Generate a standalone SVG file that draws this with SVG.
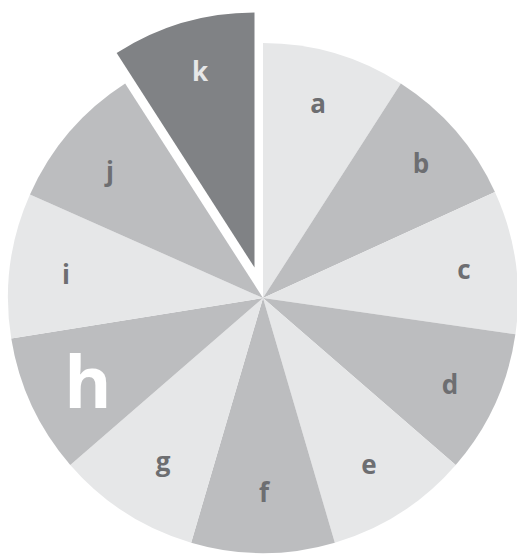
<svg xmlns="http://www.w3.org/2000/svg" width="517" height="556" viewBox="0 0 517 556">
<style>
.l{fill:#e6e7e8}.m{fill:#bcbdbf}.d{fill:#808285}
text{font-family:"Open Sans","Liberation Sans",sans-serif;font-weight:bold;font-size:26px;fill:#6d6e71;text-anchor:middle}
</style>
<rect width="517" height="556" fill="#ffffff"/>
<g id="a"><path class="l" d="M263,298 L263,43 A255,255 0 0 1 400.85,83.47 Z"/><text x="318" y="113">a</text></g>
<g id="b"><path class="m" d="M263,298 L400.85,83.47 A255,255 0 0 1 494.96,192.07 Z"/><text x="421" y="173">b</text></g>
<g id="c"><path class="l" d="M263,298 L494.96,192.07 A255,255 0 0 1 515.40,334.29 Z"/><text x="464" y="279">c</text></g>
<g id="d"><path class="m" d="M263,298 L515.40,334.29 A255,255 0 0 1 455.72,464.99 Z"/><text x="450" y="394">d</text></g>
<g id="e"><path class="l" d="M263,298 L455.72,464.99 A255,255 0 0 1 334.84,542.67 Z"/><text x="369" y="474">e</text></g>
<g id="f"><path class="m" d="M263,298 L334.84,542.67 A255,255 0 0 1 191.16,542.67 Z"/><text x="264" y="502">f</text></g>
<g id="g"><path class="l" d="M263,298 L191.16,542.67 A255,255 0 0 1 70.28,464.99 Z"/><text x="163" y="471">g</text></g>
<g id="h"><path class="m" d="M263,298 L70.28,464.99 A255,255 0 0 1 11.25,338.55 Z"/><text x="88" y="408" style="font-size:72px;fill:#ffffff">h</text></g>
<g id="i"><path class="l" d="M263,298 L11.25,338.55 A255,255 0 0 1 29.96,194.50 Z"/><text x="66" y="284">i</text></g>
<g id="j"><path class="m" d="M263,298 L29.96,194.50 A255,255 0 0 1 125.15,83.47 Z"/><text x="110" y="181">j</text></g>
<g id="k" transform="translate(-8.5,-30.5)"><path class="d" d="M263,298 L125.15,83.47 A255,255 0 0 1 263,43 Z"/><text x="208.5" y="111.5" style="fill:#e6e7e8">k</text></g>
</svg>
